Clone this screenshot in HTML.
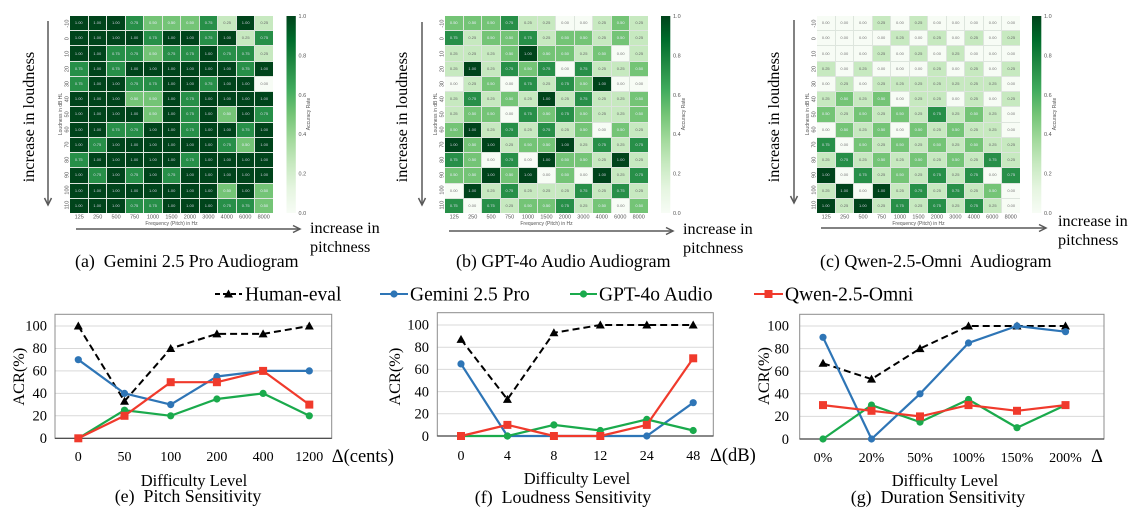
<!DOCTYPE html>
<html><head><meta charset="utf-8"><style>
html,body{margin:0;padding:0;background:#fff}
body{width:1133px;height:511px;position:relative;overflow:hidden}
.g{position:absolute;top:16px;width:203px;height:197px;display:grid;grid-template-columns:repeat(11,1fr);grid-template-rows:repeat(13,1fr);gap:1px;background:#dde5dd}
.g i{font-style:normal;font-family:"Liberation Sans",sans-serif;font-size:4px;display:flex;align-items:center;justify-content:center;line-height:1}
.a{background:#f7fcf5;color:#777}.b{background:#c7e9c0;color:#666}.c{background:#74c476;color:#eef}.d{background:#278f48;color:#dde}.e{background:#00441b;color:#ccd}
svg{position:absolute;left:0;top:0}
.s{font-family:"Liberation Serif",serif}
.t{font-family:"Liberation Sans",sans-serif;fill:#555}
</style></head><body>
<div class="g" style="left:70px">
<i class="e">1.00</i><i class="e">1.00</i><i class="e">1.00</i><i class="d">0.75</i><i class="c">0.50</i><i class="c">0.50</i><i class="c">0.50</i><i class="d">0.75</i><i class="b">0.25</i><i class="e">1.00</i><i class="b">0.25</i>
<i class="e">1.00</i><i class="e">1.00</i><i class="e">1.00</i><i class="e">1.00</i><i class="d">0.75</i><i class="e">1.00</i><i class="e">1.00</i><i class="d">0.75</i><i class="e">1.00</i><i class="b">0.25</i><i class="d">0.75</i>
<i class="e">1.00</i><i class="e">1.00</i><i class="d">0.75</i><i class="d">0.75</i><i class="c">0.50</i><i class="d">0.75</i><i class="d">0.75</i><i class="e">1.00</i><i class="d">0.75</i><i class="d">0.75</i><i class="b">0.25</i>
<i class="d">0.75</i><i class="e">1.00</i><i class="d">0.75</i><i class="e">1.00</i><i class="e">1.00</i><i class="e">1.00</i><i class="e">1.00</i><i class="e">1.00</i><i class="e">1.00</i><i class="d">0.75</i><i class="e">1.00</i>
<i class="d">0.75</i><i class="e">1.00</i><i class="e">1.00</i><i class="d">0.75</i><i class="d">0.75</i><i class="e">1.00</i><i class="e">1.00</i><i class="d">0.75</i><i class="e">1.00</i><i class="e">1.00</i><i class="a">0.00</i>
<i class="e">1.00</i><i class="e">1.00</i><i class="e">1.00</i><i class="c">0.50</i><i class="c">0.50</i><i class="e">1.00</i><i class="d">0.75</i><i class="e">1.00</i><i class="e">1.00</i><i class="e">1.00</i><i class="e">1.00</i>
<i class="e">1.00</i><i class="e">1.00</i><i class="e">1.00</i><i class="e">1.00</i><i class="c">0.50</i><i class="e">1.00</i><i class="d">0.75</i><i class="e">1.00</i><i class="c">0.50</i><i class="e">1.00</i><i class="d">0.75</i>
<i class="e">1.00</i><i class="e">1.00</i><i class="d">0.75</i><i class="d">0.75</i><i class="e">1.00</i><i class="e">1.00</i><i class="d">0.75</i><i class="e">1.00</i><i class="e">1.00</i><i class="d">0.75</i><i class="e">1.00</i>
<i class="e">1.00</i><i class="d">0.75</i><i class="e">1.00</i><i class="e">1.00</i><i class="e">1.00</i><i class="e">1.00</i><i class="e">1.00</i><i class="e">1.00</i><i class="d">0.75</i><i class="c">0.50</i><i class="e">1.00</i>
<i class="d">0.75</i><i class="e">1.00</i><i class="e">1.00</i><i class="e">1.00</i><i class="e">1.00</i><i class="e">1.00</i><i class="d">0.75</i><i class="e">1.00</i><i class="e">1.00</i><i class="e">1.00</i><i class="e">1.00</i>
<i class="e">1.00</i><i class="d">0.75</i><i class="e">1.00</i><i class="d">0.75</i><i class="e">1.00</i><i class="d">0.75</i><i class="e">1.00</i><i class="e">1.00</i><i class="e">1.00</i><i class="e">1.00</i><i class="e">1.00</i>
<i class="e">1.00</i><i class="e">1.00</i><i class="e">1.00</i><i class="e">1.00</i><i class="e">1.00</i><i class="e">1.00</i><i class="e">1.00</i><i class="e">1.00</i><i class="c">0.50</i><i class="e">1.00</i><i class="c">0.50</i>
<i class="e">1.00</i><i class="e">1.00</i><i class="e">1.00</i><i class="d">0.75</i><i class="d">0.75</i><i class="e">1.00</i><i class="e">1.00</i><i class="e">1.00</i><i class="d">0.75</i><i class="d">0.75</i><i class="c">0.50</i>
</div>
<div class="g" style="left:445px">
<i class="c">0.50</i><i class="c">0.50</i><i class="c">0.50</i><i class="d">0.75</i><i class="b">0.25</i><i class="b">0.25</i><i class="a">0.00</i><i class="a">0.00</i><i class="b">0.25</i><i class="c">0.50</i><i class="b">0.25</i>
<i class="d">0.75</i><i class="b">0.25</i><i class="c">0.50</i><i class="c">0.50</i><i class="d">0.75</i><i class="b">0.25</i><i class="c">0.50</i><i class="c">0.50</i><i class="b">0.25</i><i class="c">0.50</i><i class="b">0.25</i>
<i class="b">0.25</i><i class="b">0.25</i><i class="b">0.25</i><i class="c">0.50</i><i class="e">1.00</i><i class="c">0.50</i><i class="c">0.50</i><i class="b">0.25</i><i class="c">0.50</i><i class="a">0.00</i><i class="b">0.25</i>
<i class="b">0.25</i><i class="e">1.00</i><i class="b">0.25</i><i class="d">0.75</i><i class="c">0.50</i><i class="d">0.75</i><i class="a">0.00</i><i class="d">0.75</i><i class="b">0.25</i><i class="b">0.25</i><i class="c">0.50</i>
<i class="a">0.00</i><i class="b">0.25</i><i class="c">0.50</i><i class="a">0.00</i><i class="d">0.75</i><i class="b">0.25</i><i class="d">0.75</i><i class="c">0.50</i><i class="e">1.00</i><i class="a">0.00</i><i class="a">0.00</i>
<i class="b">0.25</i><i class="d">0.75</i><i class="b">0.25</i><i class="c">0.50</i><i class="b">0.25</i><i class="e">1.00</i><i class="b">0.25</i><i class="d">0.75</i><i class="b">0.25</i><i class="b">0.25</i><i class="c">0.50</i>
<i class="b">0.25</i><i class="c">0.50</i><i class="c">0.50</i><i class="a">0.00</i><i class="d">0.75</i><i class="c">0.50</i><i class="d">0.75</i><i class="c">0.50</i><i class="b">0.25</i><i class="b">0.25</i><i class="c">0.50</i>
<i class="c">0.50</i><i class="e">1.00</i><i class="b">0.25</i><i class="d">0.75</i><i class="b">0.25</i><i class="d">0.75</i><i class="b">0.25</i><i class="c">0.50</i><i class="a">0.00</i><i class="c">0.50</i><i class="b">0.25</i>
<i class="e">1.00</i><i class="c">0.50</i><i class="e">1.00</i><i class="b">0.25</i><i class="c">0.50</i><i class="c">0.50</i><i class="e">1.00</i><i class="b">0.25</i><i class="d">0.75</i><i class="b">0.25</i><i class="d">0.75</i>
<i class="d">0.75</i><i class="c">0.50</i><i class="a">0.00</i><i class="d">0.75</i><i class="a">0.00</i><i class="e">1.00</i><i class="c">0.50</i><i class="c">0.50</i><i class="b">0.25</i><i class="e">1.00</i><i class="b">0.25</i>
<i class="c">0.50</i><i class="c">0.50</i><i class="e">1.00</i><i class="c">0.50</i><i class="e">1.00</i><i class="a">0.00</i><i class="c">0.50</i><i class="a">0.00</i><i class="e">1.00</i><i class="b">0.25</i><i class="d">0.75</i>
<i class="a">0.00</i><i class="e">1.00</i><i class="b">0.25</i><i class="d">0.75</i><i class="b">0.25</i><i class="b">0.25</i><i class="b">0.25</i><i class="d">0.75</i><i class="b">0.25</i><i class="d">0.75</i><i class="b">0.25</i>
<i class="d">0.75</i><i class="a">0.00</i><i class="d">0.75</i><i class="b">0.25</i><i class="c">0.50</i><i class="c">0.50</i><i class="d">0.75</i><i class="b">0.25</i><i class="c">0.50</i><i class="a">0.00</i><i class="c">0.50</i>
</div>
<div class="g" style="left:817px">
<i class="a">0.00</i><i class="a">0.00</i><i class="a">0.00</i><i class="b">0.25</i><i class="a">0.00</i><i class="b">0.25</i><i class="a">0.00</i><i class="a">0.00</i><i class="a">0.00</i><i class="a">0.00</i><i class="a">0.00</i>
<i class="a">0.00</i><i class="a">0.00</i><i class="a">0.00</i><i class="a">0.00</i><i class="b">0.25</i><i class="a">0.00</i><i class="b">0.25</i><i class="a">0.00</i><i class="b">0.25</i><i class="a">0.00</i><i class="b">0.25</i>
<i class="a">0.00</i><i class="a">0.00</i><i class="a">0.00</i><i class="b">0.25</i><i class="a">0.00</i><i class="b">0.25</i><i class="a">0.00</i><i class="b">0.25</i><i class="a">0.00</i><i class="a">0.00</i><i class="a">0.00</i>
<i class="b">0.25</i><i class="a">0.00</i><i class="b">0.25</i><i class="a">0.00</i><i class="a">0.00</i><i class="a">0.00</i><i class="b">0.25</i><i class="a">0.00</i><i class="b">0.25</i><i class="a">0.00</i><i class="b">0.25</i>
<i class="a">0.00</i><i class="b">0.25</i><i class="a">0.00</i><i class="b">0.25</i><i class="b">0.25</i><i class="b">0.25</i><i class="b">0.25</i><i class="b">0.25</i><i class="b">0.25</i><i class="b">0.25</i><i class="a">0.00</i>
<i class="b">0.25</i><i class="c">0.50</i><i class="b">0.25</i><i class="c">0.50</i><i class="a">0.00</i><i class="b">0.25</i><i class="b">0.25</i><i class="a">0.00</i><i class="b">0.25</i><i class="a">0.00</i><i class="b">0.25</i>
<i class="c">0.50</i><i class="b">0.25</i><i class="c">0.50</i><i class="b">0.25</i><i class="c">0.50</i><i class="b">0.25</i><i class="d">0.75</i><i class="b">0.25</i><i class="c">0.50</i><i class="b">0.25</i><i class="a">0.00</i>
<i class="a">0.00</i><i class="c">0.50</i><i class="b">0.25</i><i class="c">0.50</i><i class="a">0.00</i><i class="c">0.50</i><i class="b">0.25</i><i class="c">0.50</i><i class="b">0.25</i><i class="b">0.25</i><i class="a">0.00</i>
<i class="d">0.75</i><i class="a">0.00</i><i class="c">0.50</i><i class="b">0.25</i><i class="c">0.50</i><i class="b">0.25</i><i class="c">0.50</i><i class="b">0.25</i><i class="c">0.50</i><i class="b">0.25</i><i class="b">0.25</i>
<i class="b">0.25</i><i class="d">0.75</i><i class="b">0.25</i><i class="c">0.50</i><i class="b">0.25</i><i class="c">0.50</i><i class="b">0.25</i><i class="c">0.50</i><i class="b">0.25</i><i class="d">0.75</i><i class="b">0.25</i>
<i class="e">1.00</i><i class="a">0.00</i><i class="d">0.75</i><i class="b">0.25</i><i class="c">0.50</i><i class="b">0.25</i><i class="d">0.75</i><i class="b">0.25</i><i class="d">0.75</i><i class="a">0.00</i><i class="d">0.75</i>
<i class="b">0.25</i><i class="e">1.00</i><i class="a">0.00</i><i class="e">1.00</i><i class="b">0.25</i><i class="d">0.75</i><i class="b">0.25</i><i class="d">0.75</i><i class="b">0.25</i><i class="c">0.50</i><i class="a">0.00</i>
<i class="e">1.00</i><i class="b">0.25</i><i class="e">1.00</i><i class="b">0.25</i><i class="d">0.75</i><i class="b">0.25</i><i class="d">0.75</i><i class="b">0.25</i><i class="d">0.75</i><i class="b">0.25</i><i class="a">0.00</i>
</div>

<svg width="1133" height="511" viewBox="0 0 1133 511" xmlns="http://www.w3.org/2000/svg">
<defs>
<linearGradient id="cb" x1="0" y1="1" x2="0" y2="0">
<stop offset="0" stop-color="#f7fcf5"/><stop offset="0.125" stop-color="#e5f5e0"/><stop offset="0.25" stop-color="#c7e9c0"/><stop offset="0.375" stop-color="#a1d99b"/><stop offset="0.5" stop-color="#74c476"/><stop offset="0.625" stop-color="#41ab5d"/><stop offset="0.75" stop-color="#238b45"/><stop offset="0.875" stop-color="#006d2c"/><stop offset="1" stop-color="#00441b"/>
</linearGradient>
<marker id="mt" markerWidth="10" markerHeight="10" refX="5" refY="5.5" markerUnits="userSpaceOnUse"><polygon points="5,1 9.5,9 0.5,9" fill="#000"/></marker>
<marker id="mb" markerWidth="8" markerHeight="8" refX="4" refY="4" markerUnits="userSpaceOnUse"><circle cx="4" cy="4" r="3.6" fill="#2e75b6"/></marker>
<marker id="mg" markerWidth="8" markerHeight="8" refX="4" refY="4" markerUnits="userSpaceOnUse"><circle cx="4" cy="4" r="3.6" fill="#1aaa4c"/></marker>
<marker id="mr" markerWidth="9" markerHeight="9" refX="4.5" refY="4.5" markerUnits="userSpaceOnUse"><rect x="0.5" y="0.5" width="8" height="8" fill="#f03a2c"/></marker>
</defs>

<!-- heatmap (a) annotations -->
<g transform="translate(70,0)">
<g class="t" font-size="5.5" text-anchor="middle">
<text transform="translate(-1.5,23.6) rotate(-90)">-10</text><text transform="translate(-1.5,38.7) rotate(-90)">0</text><text transform="translate(-1.5,53.8) rotate(-90)">10</text><text transform="translate(-1.5,69) rotate(-90)">20</text><text transform="translate(-1.5,84.1) rotate(-90)">30</text><text transform="translate(-1.5,99.2) rotate(-90)">40</text><text transform="translate(-1.5,114.4) rotate(-90)">50</text><text transform="translate(-1.5,129.5) rotate(-90)">60</text><text transform="translate(-1.5,144.6) rotate(-90)">70</text><text transform="translate(-1.5,159.8) rotate(-90)">80</text><text transform="translate(-1.5,174.9) rotate(-90)">90</text><text transform="translate(-1.5,190) rotate(-90)">100</text><text transform="translate(-1.5,205.1) rotate(-90)">110</text>
<text x="9.2" y="218.5">125</text><text x="27.7" y="218.5">250</text><text x="46.1" y="218.5">500</text><text x="64.6" y="218.5">750</text><text x="83" y="218.5">1000</text><text x="101.5" y="218.5">1500</text><text x="119.9" y="218.5">2000</text><text x="138.4" y="218.5">3000</text><text x="156.8" y="218.5">4000</text><text x="175.3" y="218.5">6000</text><text x="193.7" y="218.5">8000</text>
<text x="101.5" y="225" font-size="5">Frequency (Pitch) in Hz</text>
<text transform="translate(-8,114) rotate(-90)" font-size="5">Loudness in dB HL</text>
<text transform="translate(240,114) rotate(-90)" font-size="5">Accuracy Rate</text>
</g>
<rect x="216.5" y="16" width="9.3" height="197" fill="url(#cb)"/>
<g class="t" font-size="5.5"><text x="228.5" y="18">1.0</text><text x="228.5" y="57.4">0.8</text><text x="228.5" y="96.8">0.6</text><text x="228.5" y="136.2">0.4</text><text x="228.5" y="175.6">0.2</text><text x="228.5" y="215">0.0</text></g>
</g>

<!-- heatmap (b) annotations -->
<g transform="translate(445,0)">
<g class="t" font-size="5.5" text-anchor="middle">
<text transform="translate(-1.5,23.6) rotate(-90)">-10</text><text transform="translate(-1.5,38.7) rotate(-90)">0</text><text transform="translate(-1.5,53.8) rotate(-90)">10</text><text transform="translate(-1.5,69) rotate(-90)">20</text><text transform="translate(-1.5,84.1) rotate(-90)">30</text><text transform="translate(-1.5,99.2) rotate(-90)">40</text><text transform="translate(-1.5,114.4) rotate(-90)">50</text><text transform="translate(-1.5,129.5) rotate(-90)">60</text><text transform="translate(-1.5,144.6) rotate(-90)">70</text><text transform="translate(-1.5,159.8) rotate(-90)">80</text><text transform="translate(-1.5,174.9) rotate(-90)">90</text><text transform="translate(-1.5,190) rotate(-90)">100</text><text transform="translate(-1.5,205.1) rotate(-90)">110</text>
<text x="9.2" y="218.5">125</text><text x="27.7" y="218.5">250</text><text x="46.1" y="218.5">500</text><text x="64.6" y="218.5">750</text><text x="83" y="218.5">1000</text><text x="101.5" y="218.5">1500</text><text x="119.9" y="218.5">2000</text><text x="138.4" y="218.5">3000</text><text x="156.8" y="218.5">4000</text><text x="175.3" y="218.5">6000</text><text x="193.7" y="218.5">8000</text>
<text x="101.5" y="225" font-size="5">Frequency (Pitch) in Hz</text>
<text transform="translate(-8,114) rotate(-90)" font-size="5">Loudness in dB HL</text>
<text transform="translate(240,114) rotate(-90)" font-size="5">Accuracy Rate</text>
</g>
<rect x="216" y="16" width="9.3" height="197" fill="url(#cb)"/>
<g class="t" font-size="5.5"><text x="228" y="18">1.0</text><text x="228" y="57.4">0.8</text><text x="228" y="96.8">0.6</text><text x="228" y="136.2">0.4</text><text x="228" y="175.6">0.2</text><text x="228" y="215">0.0</text></g>
</g>

<!-- heatmap (c) annotations -->
<g transform="translate(817,0)">
<g class="t" font-size="5.5" text-anchor="middle">
<text transform="translate(-1.5,23.6) rotate(-90)">-10</text><text transform="translate(-1.5,38.7) rotate(-90)">0</text><text transform="translate(-1.5,53.8) rotate(-90)">10</text><text transform="translate(-1.5,69) rotate(-90)">20</text><text transform="translate(-1.5,84.1) rotate(-90)">30</text><text transform="translate(-1.5,99.2) rotate(-90)">40</text><text transform="translate(-1.5,114.4) rotate(-90)">50</text><text transform="translate(-1.5,129.5) rotate(-90)">60</text><text transform="translate(-1.5,144.6) rotate(-90)">70</text><text transform="translate(-1.5,159.8) rotate(-90)">80</text><text transform="translate(-1.5,174.9) rotate(-90)">90</text><text transform="translate(-1.5,190) rotate(-90)">100</text><text transform="translate(-1.5,205.1) rotate(-90)">110</text>
<text x="9.2" y="218.5">125</text><text x="27.7" y="218.5">250</text><text x="46.1" y="218.5">500</text><text x="64.6" y="218.5">750</text><text x="83" y="218.5">1000</text><text x="101.5" y="218.5">1500</text><text x="119.9" y="218.5">2000</text><text x="138.4" y="218.5">3000</text><text x="156.8" y="218.5">4000</text><text x="175.3" y="218.5">6000</text><text x="193.7" y="218.5">8000</text>
<text x="101.5" y="225" font-size="5">Frequency (Pitch) in Hz</text>
<text transform="translate(-8,114) rotate(-90)" font-size="5">Loudness in dB HL</text>
<text transform="translate(239,114) rotate(-90)" font-size="5">Accuracy Rate</text>
</g>
<rect x="215" y="16" width="9.3" height="197" fill="url(#cb)"/>
<g class="t" font-size="5.5"><text x="227" y="18">1.0</text><text x="227" y="57.4">0.8</text><text x="227" y="96.8">0.6</text><text x="227" y="136.2">0.4</text><text x="227" y="175.6">0.2</text><text x="227" y="215">0.0</text></g>
</g>

<!-- big axis annotations, arrows -->
<g class="s" font-size="16.2" fill="#000" text-anchor="middle">
<text transform="translate(34,117) rotate(-90)">increase in loudness</text>
<text transform="translate(407,117) rotate(-90)">increase in loudness</text>
<text transform="translate(779,117) rotate(-90)">increase in loudness</text>
</g>
<g stroke="#595959" stroke-width="1.5" fill="none">
<line x1="48" y1="21" x2="48" y2="205"/><polyline points="44.5,198 48,205 51.5,198"/>
<line x1="422" y1="22" x2="422" y2="205"/><polyline points="418.5,198 422,205 425.5,198"/>
<line x1="794" y1="20" x2="794" y2="203"/><polyline points="790.5,196 794,203 797.5,196"/>
<line x1="76" y1="229" x2="300" y2="229"/><polyline points="293,225.5 300,229 293,232.5"/>
<line x1="449" y1="231" x2="673" y2="231"/><polyline points="666,227.5 673,231 666,234.5"/>
<line x1="821" y1="228" x2="1046" y2="228"/><polyline points="1039,224.5 1046,228 1039,231.5"/>
</g>
<g class="s" font-size="16.2" fill="#000">
<text x="310" y="233">increase in</text><text x="310" y="252">pitchness</text>
<text x="683" y="234">increase in</text><text x="683" y="253">pitchness</text>
<text x="1058" y="226">increase in</text><text x="1058" y="245">pitchness</text>
</g>
<g class="s" font-size="17.9" fill="#000">
<text x="75" y="267" xml:space="preserve">(a)  Gemini 2.5 Pro Audiogram</text>
<text x="456" y="267">(b) GPT-4o Audio Audiogram</text>
<text x="820" y="267" xml:space="preserve">(c) Qwen-2.5-Omni  Audiogram</text>
</g>

<!-- legend -->
<g class="s" font-size="19.5" fill="#000">
<line x1="215" y1="294" x2="242" y2="294" stroke="#000" stroke-width="2" stroke-dasharray="5 3"/>
<polygon points="228.5,289.5 233,297.5 224,297.5" fill="#000"/>
<text x="245" y="300.5">Human-eval</text>
<line x1="380" y1="294" x2="408" y2="294" stroke="#2e75b6" stroke-width="2"/><circle cx="394" cy="294" r="3.6" fill="#2e75b6"/>
<text x="410" y="300.5">Gemini 2.5 Pro</text>
<line x1="570" y1="294" x2="597" y2="294" stroke="#1aaa4c" stroke-width="2"/><circle cx="583.5" cy="294" r="3.6" fill="#1aaa4c"/>
<text x="599" y="300.5">GPT-4o Audio</text>
<line x1="754" y1="294" x2="783" y2="294" stroke="#f03a2c" stroke-width="2"/><rect x="764.5" y="290" width="8" height="8" fill="#f03a2c"/>
<text x="785" y="300.5">Qwen-2.5-Omni</text>
</g>

<!-- chart (e) -->
<g>
<g stroke="#d9d9d9" stroke-width="1"><line x1="55" y1="415.8" x2="331.7" y2="415.8"/><line x1="55" y1="393.4" x2="331.7" y2="393.4"/><line x1="55" y1="370.9" x2="331.7" y2="370.9"/><line x1="55" y1="348.5" x2="331.7" y2="348.5"/><line x1="55" y1="326" x2="331.7" y2="326"/></g>
<rect x="55" y="314.3" width="276.7" height="124" fill="none" stroke="#8c8c8c" stroke-width="1"/>
<line x1="55" y1="438.3" x2="331.7" y2="438.3" stroke="#404040" stroke-width="1.2"/>
<g class="s" font-size="14.5" text-anchor="end"><text x="47" y="443">0</text><text x="47" y="420.5">20</text><text x="47" y="398">40</text><text x="47" y="375.5">60</text><text x="47" y="353">80</text><text x="47" y="330.7">100</text></g>
<g class="s" font-size="14" text-anchor="middle"><text x="78.3" y="461">0</text><text x="124.5" y="461">50</text><text x="170.7" y="461">100</text><text x="216.9" y="461">200</text><text x="263.1" y="461">400</text><text x="309.3" y="461">1200</text></g>
<text class="s" x="331.7" y="462" font-size="18.5">Δ(cents)</text>
<text class="s" transform="translate(24,376.7) rotate(-90)" font-size="16.3" text-anchor="middle">ACR(%)</text>
<text class="s" x="194" y="486" font-size="16.5" text-anchor="middle">Difficulty Level</text>
<text class="s" x="188" y="502" font-size="17.9" text-anchor="middle" xml:space="preserve">(e)  Pitch Sensitivity</text>
<polyline points="78.3,326 124.5,401.2 170.7,348.5 216.9,333.9 263.1,333.9 309.3,326" fill="none" stroke="#000" stroke-width="2" stroke-dasharray="7 4" marker-start="url(#mt)" marker-mid="url(#mt)" marker-end="url(#mt)"/>
<polyline points="78.3,359.7 124.5,393.4 170.7,404.6 216.9,376.5 263.1,370.9 309.3,370.9" fill="none" stroke="#2e75b6" stroke-width="2.2" marker-start="url(#mb)" marker-mid="url(#mb)" marker-end="url(#mb)"/>
<polyline points="78.3,438.3 124.5,410.2 170.7,415.8 216.9,399 263.1,393.4 309.3,415.8" fill="none" stroke="#1aaa4c" stroke-width="2.2" marker-start="url(#mg)" marker-mid="url(#mg)" marker-end="url(#mg)"/>
<polyline points="78.3,438.3 124.5,415.8 170.7,382.2 216.9,382.2 263.1,370.9 309.3,404.6" fill="none" stroke="#f03a2c" stroke-width="2.2" marker-start="url(#mr)" marker-mid="url(#mr)" marker-end="url(#mr)"/>
</g>

<!-- chart (f) -->
<g>
<g stroke="#d9d9d9" stroke-width="1"><line x1="437.3" y1="413.8" x2="713.3" y2="413.8"/><line x1="437.3" y1="391.6" x2="713.3" y2="391.6"/><line x1="437.3" y1="369.4" x2="713.3" y2="369.4"/><line x1="437.3" y1="347.2" x2="713.3" y2="347.2"/><line x1="437.3" y1="325" x2="713.3" y2="325"/></g>
<rect x="437.3" y="312.7" width="276" height="123.3" fill="none" stroke="#8c8c8c" stroke-width="1"/>
<line x1="437.3" y1="436" x2="713.3" y2="436" stroke="#404040" stroke-width="1.2"/>
<g class="s" font-size="14.5" text-anchor="end"><text x="429" y="441">0</text><text x="429" y="418.5">20</text><text x="429" y="396.3">40</text><text x="429" y="374.1">60</text><text x="429" y="351.9">80</text><text x="429" y="329.7">100</text></g>
<g class="s" font-size="14" text-anchor="middle"><text x="461" y="460">0</text><text x="507.4" y="460">4</text><text x="553.9" y="460">8</text><text x="600.3" y="460">12</text><text x="646.8" y="460">24</text><text x="693.2" y="460">48</text></g>
<text class="s" x="710" y="461" font-size="18.5">Δ(dB)</text>
<text class="s" transform="translate(400,376.7) rotate(-90)" font-size="16.3" text-anchor="middle">ACR(%)</text>
<text class="s" x="577" y="484" font-size="16.5" text-anchor="middle">Difficulty Level</text>
<text class="s" x="563" y="503" font-size="17.9" text-anchor="middle" xml:space="preserve">(f)  Loudness Sensitivity</text>
<polyline points="461,339.4 507.4,399.4 553.9,332.8 600.3,325 646.8,325 693.2,325" fill="none" stroke="#000" stroke-width="2" stroke-dasharray="7 4" marker-start="url(#mt)" marker-mid="url(#mt)" marker-end="url(#mt)"/>
<polyline points="461,363.9 507.4,436 553.9,436 600.3,436 646.8,436 693.2,402.7" fill="none" stroke="#2e75b6" stroke-width="2.2" marker-start="url(#mb)" marker-mid="url(#mb)" marker-end="url(#mb)"/>
<polyline points="461,436 507.4,436 553.9,424.9 600.3,430.5 646.8,419.4 693.2,430.5" fill="none" stroke="#1aaa4c" stroke-width="2.2" marker-start="url(#mg)" marker-mid="url(#mg)" marker-end="url(#mg)"/>
<polyline points="461,436 507.4,424.9 553.9,436 600.3,436 646.8,424.9 693.2,358.3" fill="none" stroke="#f03a2c" stroke-width="2.2" marker-start="url(#mr)" marker-mid="url(#mr)" marker-end="url(#mr)"/>
</g>

<!-- chart (g) -->
<g>
<g stroke="#d9d9d9" stroke-width="1"><line x1="799.7" y1="416.4" x2="1104" y2="416.4"/><line x1="799.7" y1="393.8" x2="1104" y2="393.8"/><line x1="799.7" y1="371.2" x2="1104" y2="371.2"/><line x1="799.7" y1="348.6" x2="1104" y2="348.6"/><line x1="799.7" y1="326" x2="1104" y2="326"/></g>
<rect x="799.7" y="314.3" width="304.3" height="124.7" fill="none" stroke="#8c8c8c" stroke-width="1"/>
<line x1="799.7" y1="439" x2="1104" y2="439" stroke="#404040" stroke-width="1.2"/>
<g class="s" font-size="14.5" text-anchor="end"><text x="789" y="444">0</text><text x="789" y="421.1">20</text><text x="789" y="398.5">40</text><text x="789" y="375.9">60</text><text x="789" y="353.3">80</text><text x="789" y="330.7">100</text></g>
<g class="s" font-size="14" text-anchor="middle"><text x="823" y="462">0%</text><text x="871.5" y="462">20%</text><text x="920" y="462">50%</text><text x="968.5" y="462">100%</text><text x="1017" y="462">150%</text><text x="1065.5" y="462">200%</text></g>
<text class="s" x="1091" y="462" font-size="18.5">Δ</text>
<text class="s" transform="translate(769,376) rotate(-90)" font-size="16.3" text-anchor="middle">ACR(%)</text>
<text class="s" x="945" y="486" font-size="16.5" text-anchor="middle">Difficulty Level</text>
<text class="s" x="938" y="503" font-size="17.9" text-anchor="middle" xml:space="preserve">(g)  Duration Sensitivity</text>
<polyline points="823,363.3 871.5,379.1 920,348.6 968.5,326 1017,326 1065.5,326" fill="none" stroke="#000" stroke-width="2" stroke-dasharray="7 4" marker-start="url(#mt)" marker-mid="url(#mt)" marker-end="url(#mt)"/>
<polyline points="823,337.3 871.5,439 920,393.8 968.5,343 1017,326 1065.5,331.7" fill="none" stroke="#2e75b6" stroke-width="2.2" marker-start="url(#mb)" marker-mid="url(#mb)" marker-end="url(#mb)"/>
<polyline points="823,439 871.5,405.1 920,422.1 968.5,399.5 1017,427.7 1065.5,405.1" fill="none" stroke="#1aaa4c" stroke-width="2.2" marker-start="url(#mg)" marker-mid="url(#mg)" marker-end="url(#mg)"/>
<polyline points="823,405.1 871.5,410.8 920,416.4 968.5,405.1 1017,410.8 1065.5,405.1" fill="none" stroke="#f03a2c" stroke-width="2.2" marker-start="url(#mr)" marker-mid="url(#mr)" marker-end="url(#mr)"/>
</g>
</svg>
</body></html>
